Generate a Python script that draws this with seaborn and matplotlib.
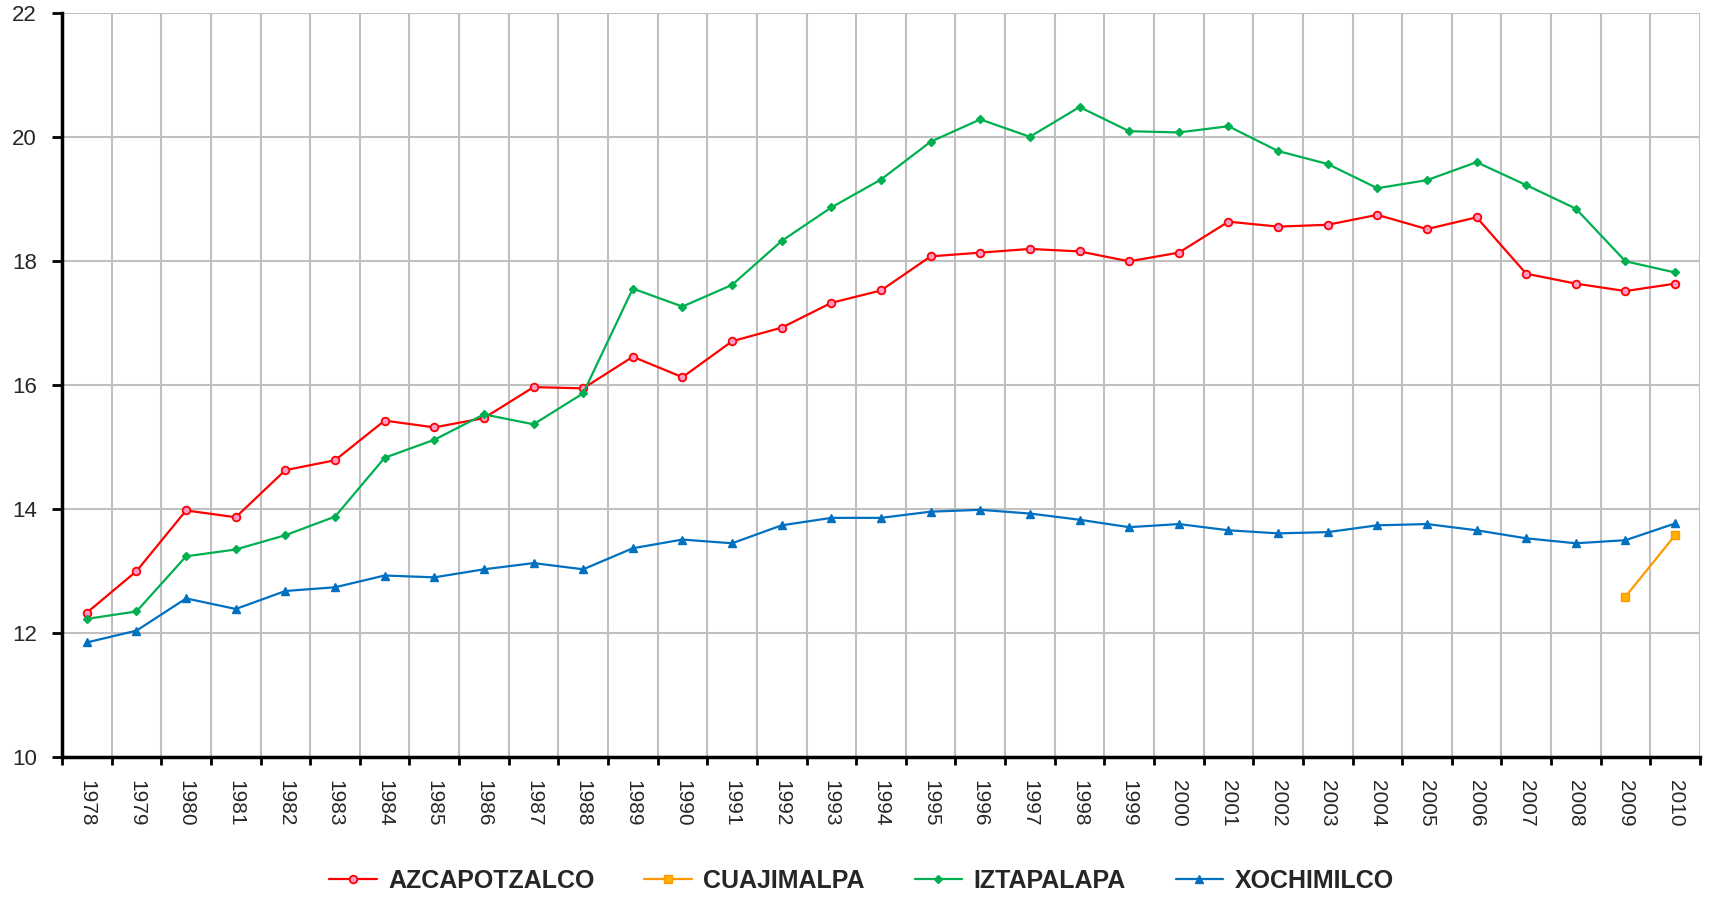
import matplotlib
matplotlib.use("Agg")
import matplotlib.pyplot as plt
import seaborn as sns
import numpy as np
import pandas as pd

# Datos
years = list(range(1978, 2011))

azcapotzalco = [12.33, 13.00, 13.98, 13.87, 14.63, 14.79, 15.43, 15.32, 15.47, 15.97,
                15.95, 16.46, 16.13, 16.71, 16.93, 17.33, 17.53, 18.08, 18.14, 18.20,
                18.16, 18.00, 18.14, 18.64, 18.56, 18.59, 18.75, 18.52, 18.71, 17.80,
                17.64, 17.52, 17.64]
iztapalapa = [12.23, 12.35, 13.24, 13.35, 13.58, 13.88, 14.83, 15.12, 15.53, 15.37,
              15.87, 17.56, 17.27, 17.62, 18.33, 18.87, 19.32, 19.93, 20.29, 20.01,
              20.49, 20.10, 20.08, 20.18, 19.78, 19.57, 19.18, 19.31, 19.60, 19.23,
              18.85, 18.00, 17.82]
xochimilco = [11.85, 12.04, 12.56, 12.39, 12.68, 12.74, 12.93, 12.90, 13.03, 13.13,
              13.03, 13.37, 13.51, 13.45, 13.74, 13.86, 13.86, 13.96, 13.99, 13.93,
              13.83, 13.71, 13.76, 13.66, 13.61, 13.63, 13.74, 13.76, 13.66, 13.53,
              13.45, 13.50, 13.77]
cuajimalpa_years = [2009, 2010]
cuajimalpa = [12.59, 13.58]

series = {
    "AZCAPOTZALCO": (years, azcapotzalco),
    "CUAJIMALPA": (cuajimalpa_years, cuajimalpa),
    "IZTAPALAPA": (years, iztapalapa),
    "XOCHIMILCO": (years, xochimilco),
}

estilos = {
    "AZCAPOTZALCO": dict(color="#FF0000", marker="o", markersize=5.5,
                         markerfacecolor="#FF99CC", markeredgecolor="#FF0000", markeredgewidth=1.3),
    "CUAJIMALPA": dict(color="#FF9900", marker="s", markersize=6,
                       markerfacecolor="#FFB000", markeredgecolor="#FF9900", markeredgewidth=1.0),
    "IZTAPALAPA": dict(color="#00B050", marker="D", markersize=4,
                       markerfacecolor="#00B050", markeredgecolor="#00B050", markeredgewidth=1.0),
    "XOCHIMILCO": dict(color="#0070C0", marker="^", markersize=6,
                       markerfacecolor="#0070C0", markeredgecolor="#0070C0", markeredgewidth=1.0),
}

sns.set_style("white")
plt.rcParams["font.family"] = ["Liberation Sans", "DejaVu Sans"]

fig = plt.figure(figsize=(17.09, 8.97), dpi=100)
ax = fig.add_axes([0.0363, 0.156, 0.9584, 0.829])

for nombre, (xs, ys) in series.items():
    df = pd.DataFrame({"x": [years.index(a) for a in xs], "y": ys})
    sns.lineplot(data=df, x="x", y="y", ax=ax, label=nombre, linewidth=1.6,
                 zorder=3, **estilos[nombre])

# Ejes
ax.set_xlim(-0.5, len(years) - 0.5)
ax.set_ylim(10, 22)
ax.set_yticks(np.arange(10, 23, 2))
ax.set_xticks(range(len(years)))
ax.set_xticklabels([str(a) for a in years], rotation=-90)
ax.set_xticks(np.arange(-0.5, len(years), 1), minor=True)
ax.set_xlabel("")
ax.set_ylabel("")

ax.grid(False)
ax.grid(True, which="minor", axis="x", color="#C0C0C0", linewidth=1.5)
ax.grid(True, which="major", axis="y", color="#C0C0C0", linewidth=1.5)
ax.set_axisbelow(True)

ax.tick_params(axis="x", which="major", length=0, pad=16.5, labelsize=15)
ax.tick_params(axis="x", which="minor", length=6, width=2, color="black", direction="out", bottom=True)
ax.tick_params(axis="y", which="major", length=7, width=2, color="black", direction="out",
               left=True, pad=11, labelsize=16)

for lado in ["top", "right"]:
    ax.spines[lado].set_visible(False)
for lado in ["left", "bottom"]:
    ax.spines[lado].set_color("black")
    ax.spines[lado].set_linewidth(2.5)
    ax.spines[lado].set_zorder(4)

ax.legend(loc="center", bbox_to_anchor=(0.504, 0.0178), bbox_transform=fig.transFigure,
          ncol=4, frameon=False, handlelength=1.9, columnspacing=2.0, handletextpad=0.45,
          prop={"weight": "bold", "size": 18})

fig.savefig("out.png", dpi=100)
